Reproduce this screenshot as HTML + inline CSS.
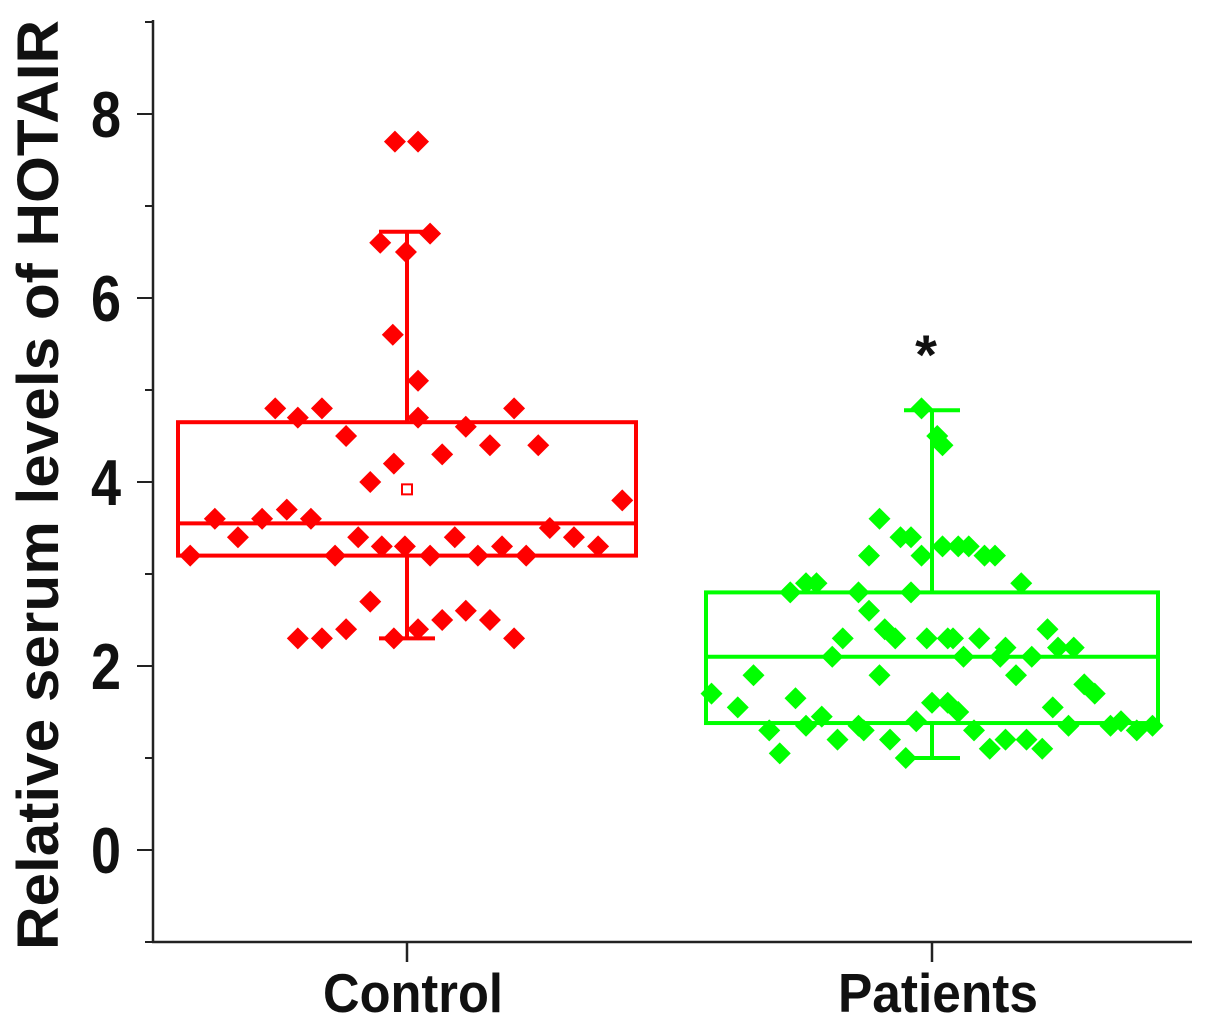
<!DOCTYPE html>
<html><head><meta charset="utf-8"><style>
html,body{margin:0;padding:0;background:#fff;}
svg{display:block;font-family:"Liberation Sans",Arial,sans-serif;font-weight:bold;}
</style></head><body>
<svg id="chart" width="1205" height="1025" viewBox="0 0 1205 1025">
<g id="axes"></g>
<g id="marks"></g>
<text x="0" y="0" transform="translate(58,485) rotate(-90)" text-anchor="middle" font-size="58" textLength="930" lengthAdjust="spacingAndGlyphs" fill="#111">Relative serum levels of HOTAIR</text>
</svg>
<script>
const categories = ["Control","Patients"];
const yTicks = [0,2,4,6,8];
const controlX = [0.587,0.634,0.678,0.724,0.771,0.817,0.863,0.907,0.952,0.996,1.044,1.091,1.135,1.181,1.227,1.272,1.318,1.364,1.41,
 0.749,0.792,0.838,0.884,0.93,0.975,1.021,1.067,1.112,1.158,1.204,1.25,
 0.792,0.838,0.884,0.93,0.975,1.021,1.067,1.112,1.158,1.204,
 0.977,1.021,0.949,0.998,1.044,0.973,1.021];
const controlY = [3.2,3.6,3.4,3.6,3.7,3.6,3.2,3.4,3.3,3.3,3.2,3.4,3.2,3.3,3.2,3.5,3.4,3.3,3.8,
 4.8,4.7,4.8,4.5,4.0,4.2,4.7,4.3,4.6,4.4,4.8,4.4,
 2.3,2.3,2.4,2.7,2.3,2.4,2.5,2.6,2.5,2.3,
 7.7,7.7,6.6,6.5,6.7,5.6,5.1];
const patientX = [1.58,1.63,1.66,1.69,1.71,1.73,1.74,1.76,1.76,1.78,1.79,1.81,1.82,1.83,1.86,1.86,1.87,1.88,1.88,1.90,1.90,1.91,1.92,1.93,1.94,1.96,1.96,1.95,1.97,1.98,1.99,2.00,2.01,2.02,2.02,2.03,2.03,2.04,2.05,2.05,2.06,2.07,2.08,2.09,2.10,2.11,2.12,2.13,2.14,2.14,2.16,2.17,2.18,2.19,2.21,2.22,2.23,2.24,2.26,2.27,2.29,2.31,2.34,2.36,2.39,2.42,1.98];
const patientY = [1.7,1.55,1.9,1.3,1.05,2.8,1.65,2.9,1.35,2.9,1.45,2.1,1.2,2.3,2.8,1.35,1.3,3.2,2.6,1.9,3.6,2.4,1.2,2.3,3.4,2.8,3.4,1.0,1.4,3.2,2.3,1.6,4.5,4.4,3.3,2.3,1.6,2.3,3.3,1.5,2.1,3.3,1.3,2.3,3.2,1.1,3.2,2.1,1.2,2.2,1.9,2.9,1.2,2.1,1.1,2.4,1.55,2.2,1.35,2.2,1.8,1.7,1.35,1.4,1.3,1.35,4.8];
// box stats: [min, q1, median, q3, max, mean]
const controlStats = [2.3,3.2,3.55,4.65,6.72,3.92];
const patientStats = [1.0,1.38,2.1,2.8,4.78,null];

const NS="http://www.w3.org/2000/svg";
const yS = v => 850 - v*92;
const xS = v => 407 + (v-1)*525;
function mk(tag,attrs,parent){const e=document.createElementNS(NS,tag);for(const k in attrs)e.setAttribute(k,attrs[k]);parent.appendChild(e);return e;}
const axes=document.getElementById('axes'), marks=document.getElementById('marks');

let a=mk('line',{x1:153,y1:20,x2:153,y2:943,stroke:'#222','stroke-width':2.5},axes);


a=mk('line',{x1:152,y1:942,x2:1192,y2:942,stroke:'#222','stroke-width':2.5},axes);


for(let v=-1;v<=9;v++){
  const major=yTicks.includes(v);
  const t=mk('line',{x1:153-(major?16:8),x2:153,y1:yS(v),y2:yS(v),stroke:'#222','stroke-width':2},axes);
  
  
}
yTicks.forEach(v=>{
  const t=mk('text',{x:0,y:0,transform:`translate(121,${yS(v)+23}) scale(1,1.2)`,'text-anchor':'end','font-size':54,fill:'#111'},axes);
  t.textContent=v;
  
  
});
categories.forEach((c,i)=>{
  const x=xS(i+1);
  const t=mk('line',{x1:x,x2:x,y1:942,y2:962,stroke:'#222','stroke-width':2.5},axes);
  
  
  const l=mk('text',{x:x+6,y:1012,'text-anchor':'middle','font-size':55,textLength:i===0?180:200,lengthAdjust:'spacingAndGlyphs',fill:'#111'},axes);
  l.textContent=c;
  
  
});

function box(stats,cx,halfW,color,name){
  const g=mk('g',{},marks);
  
  
  const x=xS(cx);
  const sw=4;
  mk('line',{x1:x,x2:x,y1:yS(stats[0]),y2:yS(stats[1]),stroke:color,'stroke-width':sw},g);
  mk('line',{x1:x,x2:x,y1:yS(stats[3]),y2:yS(stats[4]),stroke:color,'stroke-width':sw},g);
  mk('line',{x1:x-28,x2:x+28,y1:yS(stats[0]),y2:yS(stats[0]),stroke:color,'stroke-width':sw},g);
  mk('line',{x1:x-28,x2:x+28,y1:yS(stats[4]),y2:yS(stats[4]),stroke:color,'stroke-width':sw},g);
  mk('rect',{x:x-halfW,y:yS(stats[3]),width:2*halfW,height:yS(stats[1])-yS(stats[3]),fill:'none',stroke:color,'stroke-width':sw},g);
  mk('line',{x1:x-halfW,x2:x+halfW,y1:yS(stats[2]),y2:yS(stats[2]),stroke:color,'stroke-width':sw},g);
  if(stats[5]!=null) mk('rect',{x:x-5,y:yS(stats[5])-5,width:10,height:10,fill:'#fff',stroke:color,'stroke-width':2},g);
}
box(controlStats,1,229,'#ff0000','box-control');
box(patientStats,2,226,'#00ff00','box-patients');

function pts(xs,ys,color,name){
  xs.forEach((xv,i)=>{
    const x=xS(xv), y=yS(ys[i]), r=11;
    const p=mk('polygon',{points:`${x},${y-r} ${x+r},${y} ${x},${y+r} ${x-r},${y}`,fill:color},marks);
    
    
  });
}
pts(controlX,controlY,'#ff0000','control-point');
pts(patientX,patientY,'#00ff00','patient-point');

const s=mk('text',{x:xS(2)-6,y:374,'text-anchor':'middle','font-size':56,fill:'#111'},marks);
s.textContent='*';


</script>
</body></html>
